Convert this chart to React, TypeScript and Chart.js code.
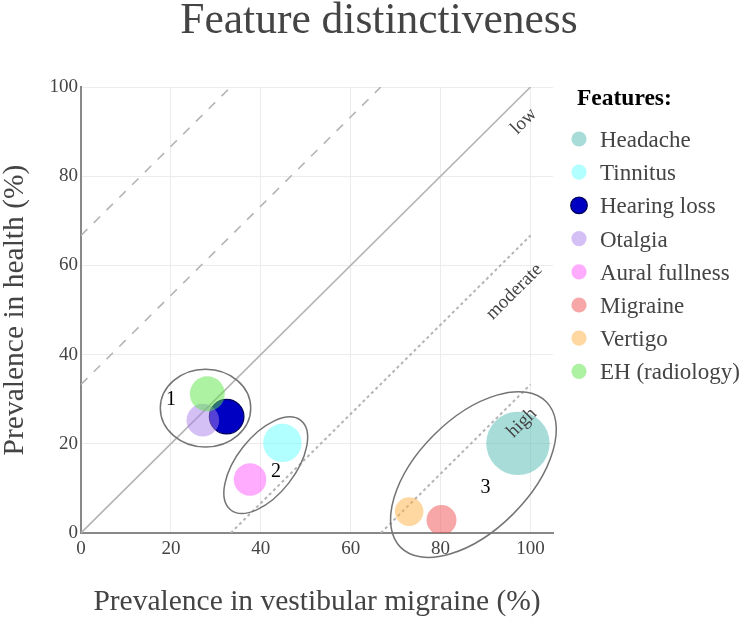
import React, { useEffect, useRef } from 'react';
import { Chart, registerables } from 'chart.js';

Chart.register(...registerables);

const FONT = '"Liberation Serif", "Times New Roman", serif';

// ---- data ----
const chartTitle = 'Feature distinctiveness';
const legendTitle = 'Features:';
const xAxisTitle = 'Prevalence in vestibular migraine (%)';
const yAxisTitle = 'Prevalence in health (%)';

const features = ['Headache', 'Tinnitus', 'Hearing loss', 'Otalgia', 'Aural fullness', 'Migraine', 'Vertigo', 'EH (radiology)'];
const vmPrevalence = [97.2, 44.8, 32.4, 27.1, 37.6, 80.2, 73.0, 28.1];
const healthPrevalence = [20.1, 20.2, 26.1, 25.3, 12.0, 2.9, 4.8, 31.2];
const bubbleRadius = [31.7, 19.2, 17.3, 16.3, 16.3, 15.0, 14.3, 17.5];
const featureColors = [
  'rgba(80,185,180,0.5)',
  'rgba(100,255,255,0.5)',
  'rgb(0,0,195)',
  'rgba(170,130,235,0.5)',
  'rgba(255,90,255,0.5)',
  'rgba(240,80,80,0.5)',
  'rgba(255,175,65,0.5)',
  'rgba(90,230,70,0.5)',
];
const featureBorderColors = ['transparent', 'transparent', 'rgb(0,0,90)', 'transparent', 'transparent', 'transparent', 'transparent', 'transparent'];
const featureBorderWidths = [0, 0, 1.2, 0, 0, 0, 0, 0];

const xTicks = [0, 20, 40, 60, 80, 100];
const yTicks = [0, 20, 40, 60, 80, 100];

// reference lines: health = vm + offset
const lineOffsets = [66.7, 33.3, 0, -33.3, -66.7];
const lineKinds = ['dash', 'dash', 'solid', 'dot', 'dot'];

// cluster ellipses (data units)
const clusterNames = ['1', '2', '3'];
const clusterLabelX = [20.0, 43.4, 90.0];
const clusterLabelY = [29.8, 13.7, 10.2];
const ellipseCx = [27.7, 41.1, 87.3];
const ellipseCy = [28.0, 15.2, 13.1];
const ellipseA = [10.1, 12.7, 23.0];
const ellipseB = [8.7, 6.5, 12.5];
const ellipseAngle = [0, 52, 45];

// zone labels
const zoneNames = ['low', 'moderate', 'high'];
const zoneX = [98.5, 96.4, 98.1];
const zoneY = [92.3, 54.1, 24.7];

const dashFor = (k: string) => (k === 'dash' ? [9, 9] : k === 'dot' ? [3, 3] : []);

const overlayPlugin = {
  id: 'overlay',
  afterDatasetsDraw(chart: any) {
    const { ctx, scales } = chart;
    const xs = scales.x;
    const ys = scales.y;
    const ppx = Math.abs(xs.getPixelForValue(1) - xs.getPixelForValue(0));
    const ppy = Math.abs(ys.getPixelForValue(1) - ys.getPixelForValue(0));
    const ppu = (ppx + ppy) / 2;
    ctx.save();
    // ellipses
    ctx.strokeStyle = '#747474';
    ctx.lineWidth = 1.5;
    for (let i = 0; i < ellipseCx.length; i++) {
      ctx.beginPath();
      ctx.ellipse(
        xs.getPixelForValue(ellipseCx[i]),
        ys.getPixelForValue(ellipseCy[i]),
        ellipseA[i] * ppu,
        ellipseB[i] * ppu,
        (-ellipseAngle[i] * Math.PI) / 180,
        0,
        Math.PI * 2
      );
      ctx.stroke();
    }
    // cluster labels
    ctx.fillStyle = '#000';
    ctx.font = `20px ${FONT}`;
    ctx.textAlign = 'center';
    ctx.textBaseline = 'middle';
    for (let i = 0; i < clusterNames.length; i++) {
      ctx.fillText(clusterNames[i], xs.getPixelForValue(clusterLabelX[i]), ys.getPixelForValue(clusterLabelY[i]));
    }
    // zone labels
    ctx.fillStyle = '#444';
    ctx.font = `19px ${FONT}`;
    for (let i = 0; i < zoneNames.length; i++) {
      ctx.save();
      ctx.translate(xs.getPixelForValue(zoneX[i]), ys.getPixelForValue(zoneY[i]));
      ctx.rotate(-Math.PI / 4);
      ctx.fillText(zoneNames[i], 0, 0);
      ctx.restore();
    }
    ctx.restore();
  },
  afterDraw(chart: any) {
    const { ctx } = chart;
    ctx.save();
    // main title
    ctx.fillStyle = '#444';
    ctx.font = `43.5px ${FONT}`;
    ctx.textAlign = 'center';
    ctx.textBaseline = 'alphabetic';
    ctx.fillText(chartTitle, 379, 33);
    // legend
    ctx.textAlign = 'left';
    ctx.fillStyle = '#000';
    ctx.font = `bold 23.5px ${FONT}`;
    ctx.fillText(legendTitle, 577, 105);
    const items = chart.data.datasets.filter((d: any) => d.type !== 'line');
    items.forEach((d: any, i: number) => {
      const cy = 139 + i * 33.2;
      ctx.beginPath();
      ctx.arc(579, cy, d.borderWidth > 0 ? 8.3 : 7.6, 0, Math.PI * 2);
      ctx.fillStyle = d.backgroundColor;
      ctx.fill();
      if (d.borderWidth > 0) {
        ctx.lineWidth = 1.2;
        ctx.strokeStyle = d.borderColor;
        ctx.stroke();
      }
      ctx.fillStyle = '#444';
      ctx.font = `23px ${FONT}`;
      ctx.fillText(d.label, 600, cy + 8);
    });
    ctx.restore();
  },
};

export default function App() {
  const canvasRef = useRef<HTMLCanvasElement | null>(null);

  useEffect(() => {
    if (!canvasRef.current) return;

    const bubbleSets = features.map((name, i) => ({
      type: 'bubble' as const,
      label: name,
      data: [{ x: vmPrevalence[i], y: healthPrevalence[i], r: bubbleRadius[i] }],
      backgroundColor: featureColors[i],
      borderColor: featureBorderColors[i],
      borderWidth: featureBorderWidths[i],
      hoverRadius: 0,
      order: features.length - i,
    }));

    const lineSets = lineOffsets.map((o, i) => ({
      type: 'line' as const,
      label: 'ref' + i,
      data: [
        { x: Math.max(0, -o), y: Math.max(0, o) },
        { x: Math.min(100, 100 - o), y: Math.min(100, 100 + o) },
      ],
      borderColor: '#b4b4b4',
      borderWidth: lineKinds[i] === 'dot' ? 2 : 1.6,
      borderDash: dashFor(lineKinds[i]),
      pointRadius: 0,
      fill: false,
      tension: 0,
      order: 100 + i,
    }));

    const chart = new Chart(canvasRef.current, {
      type: 'bubble',
      data: { datasets: [...bubbleSets, ...lineSets] as any },
      options: {
        animation: false,
        responsive: true,
        maintainAspectRatio: false,
        devicePixelRatio: 1,
        layout: { padding: { top: 87, right: 190, bottom: 0, left: 0 } },
        plugins: {
          legend: { display: false },
          title: { display: false },
          tooltip: { enabled: false },
        },
        scales: {
          x: {
            type: 'linear',
            min: 0,
            max: 105,
            afterBuildTicks: (s: any) => {
              s.ticks = xTicks.map((v) => ({ value: v }));
            },
            afterFit: (s: any) => {
              s.height = 88;
            },
            grid: { color: '#ececec', lineWidth: 1, drawTicks: false },
            border: { color: '#888', width: 2 },
            ticks: { color: '#444', font: { size: 19, family: FONT }, padding: 4.5, maxRotation: 0 },
            title: {
              display: true,
              text: xAxisTitle,
              color: '#444',
              font: { size: 29.5, family: FONT, lineHeight: 1 },
              padding: { top: 0, bottom: 4.5 },
            },
          },
          y: {
            type: 'linear',
            min: 0,
            max: 100,
            afterBuildTicks: (s: any) => {
              s.ticks = yTicks.map((v) => ({ value: v }));
            },
            afterFit: (s: any) => {
              s.width = 81;
            },
            grid: { color: '#ececec', lineWidth: 1, drawTicks: false },
            border: { color: '#888', width: 2 },
            ticks: { color: '#444', font: { size: 19, family: FONT }, padding: 3 },
            title: {
              display: true,
              text: yAxisTitle,
              color: '#444',
              font: { size: 29.5, family: FONT, lineHeight: 1 },
              padding: { top: 0, bottom: 0 },
            },
          },
        },
      } as any,
      plugins: [overlayPlugin],
    });

    return () => chart.destroy();
  }, []);

  return (
    <div style={{ position: 'fixed', left: 0, top: 0, width: 743, height: 621, background: '#fff' }}>
      <canvas ref={canvasRef} />
    </div>
  );
}
